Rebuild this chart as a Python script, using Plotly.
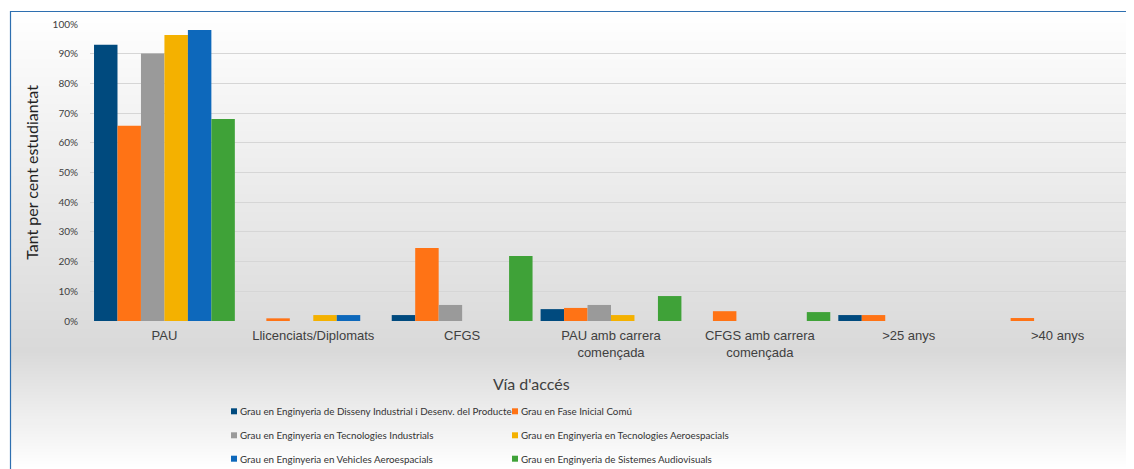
import plotly.graph_objects as go

W, H = 1134, 469
OFF = 8  # page body margin of the browser
# plot area in window pixels
PL, PR, PT, PB = 90, 1132, 24, 321

categories = [
    "PAU",
    "Llicenciats/Diplomats",
    "CFGS",
    "PAU amb carrera<br>començada",
    "CFGS amb carrera<br>començada",
    ">25 anys",
    ">40 anys",
]

series_names = [
    "Grau en Enginyeria de Disseny Industrial i Desenv. del Producte",
    "Grau en Fase Inicial Comú",
    "Grau en Enginyeria en Tecnologies Industrials",
    "Grau en Enginyeria en Tecnologies Aeroespacials",
    "Grau en Enginyeria en Vehicles Aeroespacials",
    "Grau en Enginyeria de Sistemes Audiovisuals",
]

disseny = [93.0, None, 2.0, 4.0, None, 2.0, None]
fase_inicial = [65.7, 0.9, 24.6, 4.4, 3.3, 2.0, 1.0]
tecnologies_ind = [90.1, None, 5.4, 5.4, None, None, None]
tecnologies_aero = [96.3, 2.0, None, 2.0, None, None, None]
vehicles_aero = [98.0, 2.0, None, None, None, None, None]
audiovisuals = [68.0, None, 21.9, 8.4, 3.0, None, None]

series_values = [disseny, fase_inicial, tecnologies_ind,
                 tecnologies_aero, vehicles_aero, audiovisuals]
colors = ["#004a7e", "#ff7315", "#9a9a9a", "#f4b100", "#0d68bb", "#3fa238"]

TEXT = "#404040"


def px_x(wx):
    return (wx - PL) / (PR - PL)


def px_y(wy):
    return (PB - wy) / (PB - PT)


def bg_grey(wy):
    # white at the top, darkest around y=350, white again at the bottom
    if wy < 350:
        t = max(0.0, (wy - 11) / (350 - 11))
        v = 255 - t * (255 - 217)
    else:
        t = min(1.0, (wy - 350) / (469 - 350))
        v = 217 + t * (255 - 217)
    v = int(round(v))
    return f"rgb({v},{v},{v})"


fig = go.Figure()

for name, values, color in zip(series_names, series_values, colors):
    fig.add_trace(go.Bar(x=categories, y=values, name=name,
                         marker_color=color, marker_line_width=0,
                         showlegend=False))

shapes = []
step = 3
for wy in range(11, H + 1, step):
    shapes.append(dict(
        type="rect", xref="paper", yref="paper", layer="below",
        x0=px_x(10), x1=px_x(W + 20), y0=px_y(wy + step), y1=px_y(wy),
        fillcolor=bg_grey(wy + step / 2), line_width=0,
    ))
shapes.append(dict(
    type="rect", xref="paper", yref="paper", layer="below",
    x0=px_x(10.5), x1=px_x(W + 20), y0=px_y(H + 20), y1=px_y(11.5),
    fillcolor="rgba(0,0,0,0)", line=dict(color="#2e6fb0", width=1.2),
))

annotations = [dict(
    text="Vía d'accés", xref="paper", yref="paper",
    x=px_x(531), y=px_y(383), showarrow=False,
    xanchor="center", yanchor="middle",
    font=dict(family="Lato", size=16, color=TEXT),
)]

# legend: two columns of small squares with labels
col_x = [231, 512]
row_y = [411.3, 435.3, 458.7]
for i, (name, color) in enumerate(zip(series_names, colors)):
    x0 = col_x[i % 2]
    yc = row_y[i // 2]
    shapes.append(dict(
        type="rect", xref="paper", yref="paper",
        x0=px_x(x0), x1=px_x(x0 + 6), y0=px_y(yc + 3), y1=px_y(yc - 3),
        fillcolor=color, line_width=0,
    ))
    annotations.append(dict(
        text=name, xref="paper", yref="paper",
        x=px_x(x0 + 7), y=px_y(yc), showarrow=False,
        xanchor="left", yanchor="middle",
        font=dict(family="Lato", size=9.8, color="#333333"),
    ))

fig.update_layout(
    width=W, height=H,
    margin=dict(l=PL - OFF, r=W - (PR - OFF), t=PT - OFF, b=H - (PB - OFF),
                autoexpand=False),
    paper_bgcolor="white",
    plot_bgcolor="rgba(0,0,0,0)",
    barmode="group",
    bargap=0.054,
    bargroupgap=0,
    showlegend=False,
    shapes=shapes,
    annotations=annotations,
)

fig.update_xaxes(
    type="category",
    showgrid=False, showline=False, zeroline=False,
    ticks="", ticklabelstandoff=5,
    tickfont=dict(family="Liberation Sans", size=13, color=TEXT),
)
fig.update_yaxes(
    range=[0, 100], dtick=10, ticksuffix="%",
    showgrid=True, gridcolor="#d6d6d6", gridwidth=1,
    zeroline=False, showline=False,
    ticks="", ticklabelstandoff=11,
    tickfont=dict(family="Lato", size=10, color=TEXT),
    title=dict(text="Tant per cent estudiantat", standoff=9,
               font=dict(family="Lato", size=16, color="#222222")),
)

fig.write_html("out.html")
